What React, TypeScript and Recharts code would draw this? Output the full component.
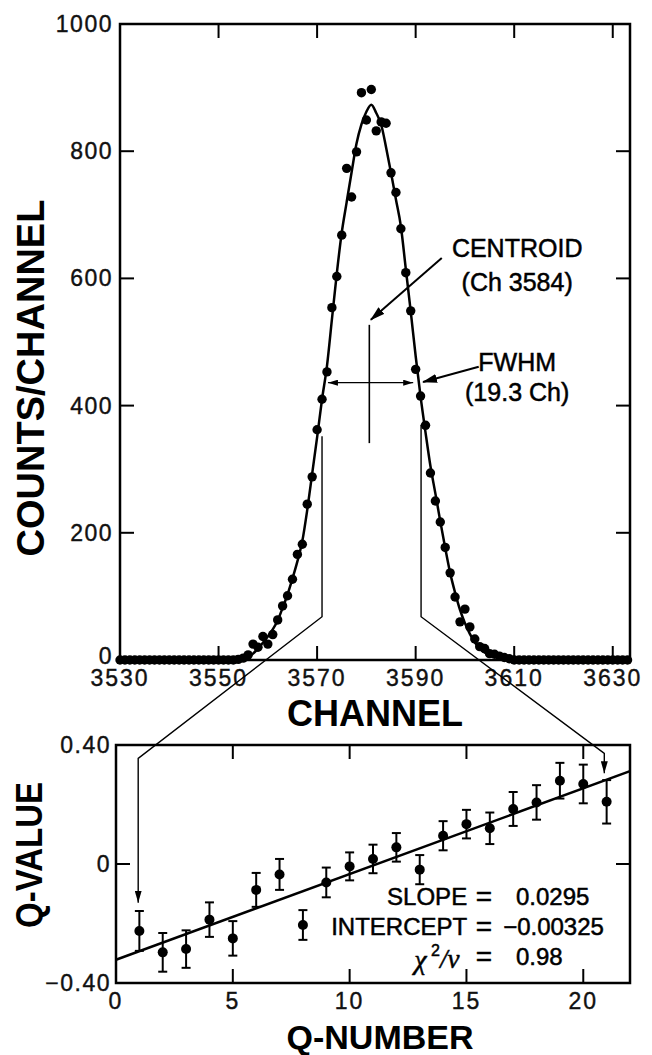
import React from "react";
import {
  ComposedChart,
  Scatter,
  Line,
  XAxis,
  YAxis,
  ErrorBar,
  ReferenceArea,
} from "recharts";

// ---- spectrum (top panel) ----
const CHANNEL_START = 3530;
const COUNTS = [
  0, 0, 0, 0, 0, 0, 0, 0, 0, 0, 0, 0, 0, 0, 0, 0, 0, 0, 0, 0, 0, 0, 0, 0,
  1, 3, 8, 25, 20, 37, 25, 40, 63, 85, 101, 127, 166, 182, 245, 288, 362, 410,
  453, 554, 603, 668, 773, 728, 799, 892, 849, 897, 832, 846, 844, 766, 735,
  678, 609, 549, 457, 415, 369, 294, 250, 217, 177, 137, 99, 60, 80, 52, 33,
  21, 18, 10, 9, 6, 4, 2,
  0, 0, 0, 0, 0, 0, 0, 0, 0, 0, 0, 0, 0, 0, 0, 0, 0, 0, 0, 0, 0, 0, 0, 0,
];
const FIT_COUNTS = [
  0, 0, 0, 0, 0, 0, 0, 0, 0, 0, 0, 0, 0, 0, 0, 0, 0, 0, 0, 0, 0, 0, 0, 0, 0,
  1, 4, 10, 18, 27, 37, 48, 62, 82, 103, 128, 155, 187, 236, 293, 350, 410,
  462, 535, 608, 672, 720, 767, 812, 842, 862, 873, 860, 842, 806, 766, 724,
  682, 615, 548, 478, 414, 358, 305, 262, 218, 176, 137, 106, 79, 58, 41, 28,
  18, 12, 8, 6, 5, 4, 2, 1,
  0, 0, 0, 0, 0, 0, 0, 0, 0, 0, 0, 0, 0, 0, 0, 0, 0, 0, 0, 0, 0, 0, 0,
];
const CHANNEL_TICKS = [3530, 3550, 3570, 3590, 3610, 3630];
const COUNT_TICKS = [0, 200, 400, 600, 800, 1000];
const CH_DOMAIN: [number, number] = [3530, 3633.5];
const COUNT_DOMAIN: [number, number] = [0, 1000];

// ---- Q-value fit (bottom panel) ----
const Q_NUMBERS = [1, 2, 3, 4, 5, 6, 7, 8, 9, 10, 11, 12, 13, 14, 15, 16, 17, 18, 19, 20, 21];
const Q_VALUES = [
  -0.225, -0.297, -0.286, -0.187, -0.25, -0.087, -0.035, -0.205, -0.062,
  -0.008, 0.017, 0.056, -0.019, 0.095, 0.134, 0.12, 0.185, 0.207, 0.28,
  0.269, 0.209,
];
const Q_ERRORS = [
  0.067, 0.065, 0.063, 0.058, 0.058, 0.057, 0.052, 0.05, 0.05, 0.047, 0.048,
  0.048, 0.049, 0.049, 0.048, 0.053, 0.057, 0.058, 0.06, 0.065, 0.073,
];
const FIT_Q = [0, 22];
const FIT_V = [-0.322, 0.312];
const Q_TICKS = [0, 5, 10, 15, 20];
const V_TICKS = [-0.4, 0, 0.4];
const Q_DOMAIN: [number, number] = [0, 22];
const V_DOMAIN: [number, number] = [-0.4, 0.4];

const spectrum = COUNTS.map((c, i) => ({
  ch: CHANNEL_START + i,
  counts: c,
  fit: FIT_COUNTS[i],
}));
const qPoints = Q_NUMBERS.map((q, i) => ({ q, v: Q_VALUES[i], err: Q_ERRORS[i] }));
const qFit = FIT_Q.map((q, i) => ({ q, v: FIT_V[i] }));

// plot boxes (page pixels) – only used to place the annotation overlay
const TOP_BOX = { left: 120, right: 630, top: 24, bottom: 660 };
const BOT_BOX = { left: 116, right: 630, top: 745, bottom: 983 };
const topX = (ch: number) =>
  TOP_BOX.left + ((ch - CH_DOMAIN[0]) / (CH_DOMAIN[1] - CH_DOMAIN[0])) * (TOP_BOX.right - TOP_BOX.left);
const topY = (c: number) => TOP_BOX.bottom - (c / 1000) * (TOP_BOX.bottom - TOP_BOX.top);
const botX = (q: number) => BOT_BOX.left + (q / 22) * (BOT_BOX.right - BOT_BOX.left);
const botY = (v: number) => BOT_BOX.top + ((0.4 - v) / 0.8) * (BOT_BOX.bottom - BOT_BOX.top);

const FONT = '"Liberation Sans", Arial, Helvetica, sans-serif';
const TICK_LEN = 14;

const fmtV = (v: number) => (v === 0 ? "0" : v < 0 ? "\u2212" + Math.abs(v).toFixed(2) : v.toFixed(2));

// x tick: inward marks on bottom and top edge + label below
const makeXTick = (plotH: number, fmt: (v: number) => string = String) => (p: any) => {
  const { x, y, payload } = p;
  return (
    <g>
      <line x1={x} y1={y} x2={x} y2={y - TICK_LEN} stroke="#000" strokeWidth={2} />
      <line x1={x} y1={y - plotH} x2={x} y2={y - plotH + TICK_LEN} stroke="#000" strokeWidth={2} />
      <text
        x={x}
        y={y + 26}
        textAnchor="middle"
        fontSize={23}
        fontFamily={FONT}
        fill="#111"
        stroke="#111"
        strokeWidth={0.4}
        letterSpacing={2}
      >
        {fmt(payload.value)}
      </text>
    </g>
  );
};

// y tick: inward marks on left and right edge + label left of axis
const makeYTick =
  (plotW: number, gap: number, fmt: (v: number) => string = String, zeroLift = 0) =>
  (p: any) => {
    const { x, y, payload } = p;
    const ly = payload.value === 0 ? y - zeroLift : y;
    return (
      <g>
        <line x1={x} y1={y} x2={x + TICK_LEN} y2={y} stroke="#000" strokeWidth={2} />
        <line x1={x + plotW} y1={y} x2={x + plotW - TICK_LEN} y2={y} stroke="#000" strokeWidth={2} />
        <text
          x={x - gap}
          y={ly}
          textAnchor="end"
          dominantBaseline="central"
          fontSize={23}
          fontFamily={FONT}
          fill="#111"
          stroke="#111"
          strokeWidth={0.4}
          letterSpacing={1.5}
        >
          {fmt(payload.value)}
        </text>
      </g>
    );
  };

function Dot(props: any) {
  const { cx, cy, r } = props;
  if (cx == null || cy == null) return null;
  return <circle cx={cx} cy={cy} r={r} fill="#000" />;
}

function Overlay() {
  const leftLink = [
    [topX(3571), topY(352)],
    [topX(3571), topY(68)],
    [botX(0.95), botY(0.355)],
    [botX(0.95), botY(-0.13)],
  ];
  const rightLink = [
    [topX(3591.1), topY(370)],
    [topX(3591.1), topY(68)],
    [botX(20.9), botY(0.372)],
    [botX(20.9), botY(0.305)],
  ];
  const pts = (a: number[][]) => a.map((p) => p.join(",")).join(" ");
  const labelX = topX(3610.6);
  const ann = { fontSize: 25, fill: "#000", stroke: "#000", strokeWidth: 0.5 };
  const stat = { fontSize: 24, fill: "#000", stroke: "#000", strokeWidth: 0.5 };
  return (
    <svg
      width={652}
      height={1055}
      style={{ position: "absolute", left: 0, top: 0, pointerEvents: "none" }}
      fontFamily={FONT}
    >
      <defs>
        <marker id="big" markerWidth={15} markerHeight={9} refX={14} refY={4.5} orient="auto" markerUnits="userSpaceOnUse">
          <path d="M0,0 L15,4.5 L0,9 Z" fill="#000" />
        </marker>
        <marker id="small" markerWidth={10} markerHeight={6} refX={10} refY={3} orient="auto-start-reverse" markerUnits="userSpaceOnUse">
          <path d="M0,0 L10,3 L0,6 Z" fill="#000" />
        </marker>
        <marker id="link" markerWidth={7} markerHeight={12} refX={3.5} refY={12} orient="0" markerUnits="userSpaceOnUse">
          <path d="M0,0 L3.5,12 L7,0 Z" fill="#000" />
        </marker>
      </defs>

      {/* axis titles */}
      <text
        transform="translate(31,378) rotate(-90)"
        textAnchor="middle"
        dominantBaseline="central"
        fontSize={38}
        fontWeight="bold"
        fill="#000"
      >
        COUNTS/CHANNEL
      </text>
      <text x={375} y={713} textAnchor="middle" dominantBaseline="central" fontSize={36} fontWeight="bold" fill="#000">
        CHANNEL
      </text>
      <text
        transform="translate(29,855) rotate(-90)"
        textAnchor="middle"
        dominantBaseline="central"
        fontSize={36}
        fontWeight="bold"
        textLength={146}
        lengthAdjust="spacingAndGlyphs"
        fill="#000"
      >
        Q-VALUE
      </text>
      <text x={380} y={1049} textAnchor="middle" fontSize={34} fontWeight="bold" fill="#000">
        Q-NUMBER
      </text>

      {/* centroid */}
      <line x1={topX(3580.6)} y1={topY(341)} x2={topX(3580.6)} y2={topY(527)} stroke="#000" strokeWidth={1.6} />
      <line
        x1={topX(3595.3)}
        y1={topY(632)}
        x2={topX(3580.9)}
        y2={topY(535)}
        stroke="#000"
        strokeWidth={2}
        markerEnd="url(#big)"
      />
      <text x={labelX} y={topY(648)} textAnchor="middle" dominantBaseline="central" {...ann}>
        CENTROID
      </text>
      <text x={labelX} y={topY(594)} textAnchor="middle" dominantBaseline="central" {...ann}>
        (Ch 3584)
      </text>

      {/* FWHM */}
      <line
        x1={topX(3572.2)}
        y1={topY(436)}
        x2={topX(3589.5)}
        y2={topY(436)}
        stroke="#000"
        strokeWidth={1.3}
        markerStart="url(#small)"
        markerEnd="url(#small)"
      />
      <line
        x1={topX(3602.8)}
        y1={topY(461)}
        x2={topX(3591.5)}
        y2={topY(437)}
        stroke="#000"
        strokeWidth={2}
        markerEnd="url(#big)"
      />
      <text x={labelX} y={topY(468)} textAnchor="middle" dominantBaseline="central" {...ann}>
        FWHM
      </text>
      <text x={labelX} y={topY(421)} textAnchor="middle" dominantBaseline="central" {...ann}>
        (19.3 Ch)
      </text>

      {/* links from the spectrum down to the Q-value plot */}
      <polyline points={pts(leftLink)} fill="none" stroke="#000" strokeWidth={1.4} markerEnd="url(#link)" />
      <polyline points={pts(rightLink)} fill="none" stroke="#000" strokeWidth={1.4} markerEnd="url(#link)" />

      {/* fit results */}
      <g {...stat}>
        <text x={botX(15.03)} y={botY(-0.11)} textAnchor="end" dominantBaseline="central">SLOPE</text>
        <text x={botX(15.75)} y={botY(-0.11)} textAnchor="middle" dominantBaseline="central" fontSize={28}>=</text>
        <text x={botX(17.12)} y={botY(-0.11)} dominantBaseline="central">0.0295</text>
        <text x={botX(15.03)} y={botY(-0.211)} textAnchor="end" dominantBaseline="central">INTERCEPT</text>
        <text x={botX(15.75)} y={botY(-0.211)} textAnchor="middle" dominantBaseline="central" fontSize={28}>=</text>
        <text x={botX(16.57)} y={botY(-0.211)} dominantBaseline="central">{"\u2212"}0.00325</text>
        <text x={botX(14.7)} y={botY(-0.318)} textAnchor="end" dominantBaseline="central">
          <tspan fontFamily='"Liberation Serif", serif' fontStyle="italic" fontSize={28}>χ</tspan>
          <tspan fontSize={16} dy={-9}> 2</tspan>
          <tspan dy={9} fontFamily='"Liberation Serif", serif' fontStyle="italic" fontSize={27}>/ν</tspan>
        </text>
        <text x={botX(15.75)} y={botY(-0.312)} textAnchor="middle" dominantBaseline="central" fontSize={28}>=</text>
        <text x={botX(17.12)} y={botY(-0.312)} dominantBaseline="central">0.98</text>
      </g>
    </svg>
  );
}

const frame = { stroke: "#000", strokeWidth: 2.5, fill: "#fff", fillOpacity: 0 };

export default function App() {
  return (
    <div
      style={{
        position: "absolute",
        left: 0,
        top: 0,
        width: 652,
        height: 1055,
        background: "#fff",
        fontFamily: FONT,
      }}
    >
      <div style={{ position: "absolute", left: 0, top: 0 }}>
        <ComposedChart
          width={652}
          height={700}
          data={spectrum}
          margin={{ top: 24, right: 22, bottom: 0, left: 0 }}
        >
          <XAxis
            dataKey="ch"
            type="number"
            domain={CH_DOMAIN}
            ticks={CHANNEL_TICKS}
            height={40}
            tickSize={0}
            tickMargin={0}
            axisLine={false}
            tickLine={false}
            tick={makeXTick(TOP_BOX.bottom - TOP_BOX.top)}
          />
          <YAxis
            type="number"
            domain={COUNT_DOMAIN}
            ticks={COUNT_TICKS}
            width={120}
            tickSize={0}
            tickMargin={0}
            axisLine={false}
            tickLine={false}
            tick={makeYTick(TOP_BOX.right - TOP_BOX.left, 7, String, 4)}
          />
          <ReferenceArea
            x1={CH_DOMAIN[0]}
            x2={CH_DOMAIN[1]}
            y1={COUNT_DOMAIN[0]}
            y2={COUNT_DOMAIN[1]}
            {...frame}
          />
          <Line
            dataKey="fit"
            type="monotone"
            stroke="#000"
            strokeWidth={2.5}
            dot={false}
            isAnimationActive={false}
          />
          <Scatter
            dataKey="counts"
            fill="#000"
            shape={(p: any) => <Dot {...p} r={4.7} />}
            isAnimationActive={false}
          />
        </ComposedChart>
      </div>

      <div style={{ position: "absolute", left: 0, top: 700 }}>
        <ComposedChart
          width={652}
          height={355}
          margin={{ top: 45, right: 22, bottom: 0, left: 0 }}
        >
          <XAxis
            dataKey="q"
            type="number"
            domain={Q_DOMAIN}
            ticks={Q_TICKS}
            height={72}
            tickSize={0}
            tickMargin={0}
            axisLine={false}
            tickLine={false}
            tick={makeXTick(BOT_BOX.bottom - BOT_BOX.top)}
          />
          <YAxis
            type="number"
            domain={V_DOMAIN}
            ticks={V_TICKS}
            width={116}
            tickSize={0}
            tickMargin={0}
            axisLine={false}
            tickLine={false}
            tick={makeYTick(BOT_BOX.right - BOT_BOX.left, 5, fmtV)}
          />
          <ReferenceArea
            x1={Q_DOMAIN[0]}
            x2={Q_DOMAIN[1]}
            y1={V_DOMAIN[0]}
            y2={V_DOMAIN[1]}
            {...frame}
          />
          <Line
            data={qFit}
            dataKey="v"
            type="linear"
            stroke="#000"
            strokeWidth={2.5}
            dot={false}
            isAnimationActive={false}
          />
          <Scatter
            data={qPoints}
            dataKey="v"
            fill="#000"
            shape={(p: any) => <Dot {...p} r={5} />}
            isAnimationActive={false}
          >
            <ErrorBar dataKey="err" direction="y" width={4.5} stroke="#000" strokeWidth={2} />
          </Scatter>
        </ComposedChart>
      </div>

      <Overlay />
    </div>
  );
}
